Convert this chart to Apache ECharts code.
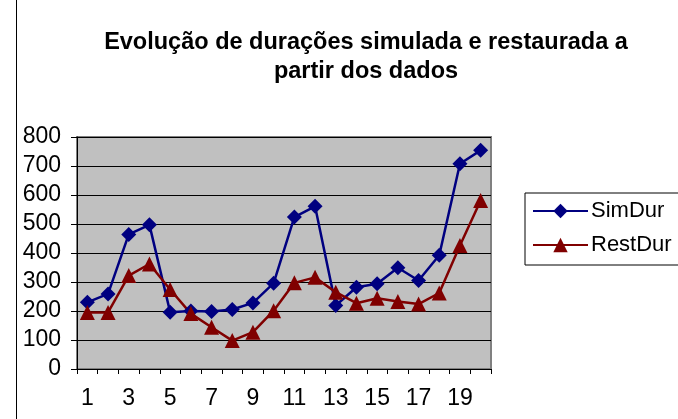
<!DOCTYPE html>
<html>
<head>
<meta charset="utf-8">
<script src="https://cdn.jsdelivr.net/npm/echarts@6/dist/echarts.min.js"></script>
<style>
  html, body { margin: 0; padding: 0; background: #fff; }
  #chart { width: 678px; height: 419px; }
</style>
</head>
<body>
<div id="chart"></div>
<script>
const categories = ['1','2','3','4','5','6','7','8','9','10','11','12','13','14','15','16','17','18','19','20']
const simDur = [230, 259, 464, 497, 196, 200, 198, 205, 228, 296, 524, 561, 219, 282, 294, 349, 305, 392, 708, 754]
const restDur = [195, 195, 322, 362, 274, 191, 144, 98, 127, 201, 297, 316, 265, 227, 244, 233, 224, 262, 426, 581]
const yTicks = [0, 100, 200, 300, 400, 500, 600, 700, 800]

const font = 'Arial, "Liberation Sans", sans-serif'
const chart = echarts.init(document.getElementById('chart'))

chart.setOption({
  animation: false,
  textStyle: { fontFamily: font },
  title: {
    text: 'Evolução de durações simulada e restaurada a\npartir dos dados',
    left: 366,
    top: 28,
    padding: 0,
    textAlign: 'center',
    textStyle: { fontFamily: font, fontSize: 23.5, fontWeight: 'bold', color: '#000', lineHeight: 29 }
  },
  graphic: [{
    type: 'rect',
    shape: { x: 16.5, y: -5, width: 700, height: 440 },
    style: { fill: null, stroke: '#000', lineWidth: 1 },
    silent: true
  }],
  grid: {
    left: 77,
    top: 137,
    width: 414,
    height: 232,
    show: true,
    backgroundColor: '#c0c0c0',
    borderColor: '#808080',
    borderWidth: 2
  },
  legend: {
    orient: 'vertical',
    left: 525,
    top: 193,
    padding: [5, 60, 7, 7],
    itemGap: 8,
    itemWidth: 55,
    itemHeight: 18,
    borderColor: '#000',
    borderWidth: 1,
    textStyle: { fontFamily: font, fontSize: 22, lineHeight: 26, color: '#000', padding: [0, 0, 0, -2] },
    data: ['SimDur', 'RestDur']
  },
  xAxis: {
    type: 'category',
    data: categories,
    boundaryGap: true,
    axisLine: { lineStyle: { color: '#000', width: 1 } },
    axisTick: { show: true, interval: 0, length: 5, lineStyle: { color: '#000' } },
    axisLabel: { interval: 1, fontSize: 23, color: '#000', margin: 18, fontFamily: font }
  },
  yAxis: {
    type: 'value',
    min: yTicks[0],
    max: yTicks[yTicks.length - 1],
    interval: 100,
    axisLine: { show: true, lineStyle: { color: '#000', width: 1 } },
    axisTick: { show: true, length: 6, lineStyle: { color: '#000' } },
    axisLabel: { fontSize: 23, color: '#000', margin: 16, fontFamily: font },
    splitLine: { show: true, lineStyle: { color: '#000', width: 1 } }
  },
  series: [
    {
      name: 'SimDur',
      type: 'line',
      data: simDur,
      symbol: 'diamond',
      symbolSize: 15,
      showAllSymbol: true,
      color: '#000080',
      lineStyle: { width: 2.5, color: '#000080' },
      itemStyle: { color: '#000080' }
    },
    {
      name: 'RestDur',
      type: 'line',
      data: restDur,
      symbol: 'triangle',
      symbolSize: 15,
      showAllSymbol: true,
      color: '#800000',
      lineStyle: { width: 2.5, color: '#800000' },
      itemStyle: { color: '#800000' }
    }
  ]
})
</script>
</body>
</html>
